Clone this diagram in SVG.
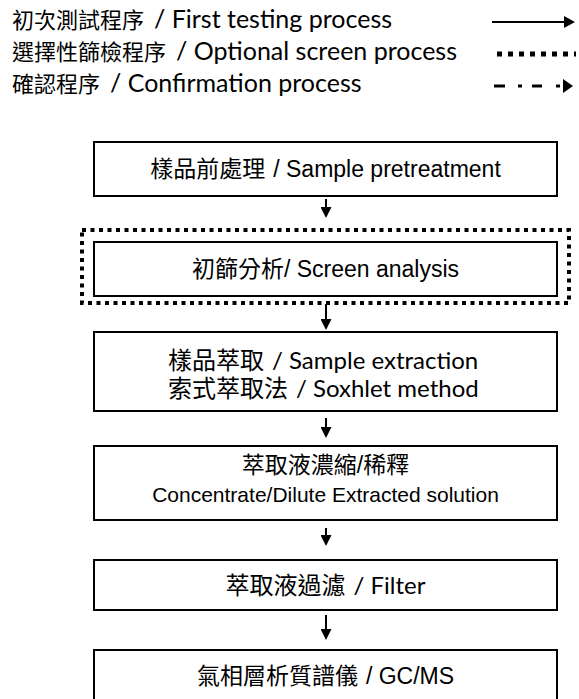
<svg xmlns="http://www.w3.org/2000/svg" width="579" height="699" viewBox="0 0 579 699">
<defs>
<style>
.box{fill:#fff;stroke:#000;stroke-width:2}
.t{font-family:"Liberation Sans","Noto Sans CJK TC",sans-serif;font-size:23px;fill:#000}
.tc{font-family:Lato,"Noto Sans CJK TC",sans-serif;font-size:24px;fill:#000}
.lg{font-family:Lato,"Noto Sans CJK TC",sans-serif;font-size:25px;fill:#000}
.lgc{font-size:22px}
.conn{stroke:#000;stroke-width:2;fill:none}
</style>
<marker id="ah" markerWidth="11" markerHeight="11" refX="5.5" refY="5" orient="0" markerUnits="userSpaceOnUse" viewBox="0 0 11 11">
<path d="M0,0 L11,0 L5.5,11 Z" fill="#000"/>
</marker>
</defs>
<rect width="579" height="699" fill="#fff"/>
<g id="legend">
<text class="lg" x="12" y="28"><tspan class="lgc">初次測試程序</tspan><tspan dx="10">/ First testing process</tspan></text>
<text class="lg" x="12" y="60"><tspan class="lgc">選擇性篩檢程序</tspan><tspan dx="10">/ Optional screen process</tspan></text>
<text class="lg" x="12" y="92"><tspan class="lgc">確認程序</tspan><tspan dx="10">/ Confirmation process</tspan></text>
<line x1="492" y1="22" x2="566" y2="22" stroke="#000" stroke-width="2"/>
<path d="M564,16 L575,22 L564,28 Z" fill="#000"/>
<line x1="497" y1="54" x2="576" y2="54" stroke="#000" stroke-width="5" stroke-dasharray="5 6"/>
<line x1="494" y1="86" x2="505" y2="86" stroke="#000" stroke-width="3"/>
<line x1="518" y1="86" x2="522" y2="86" stroke="#000" stroke-width="3"/>
<line x1="532" y1="86" x2="542" y2="86" stroke="#000" stroke-width="3"/>
<line x1="556" y1="86" x2="560" y2="86" stroke="#000" stroke-width="3"/>
<path d="M563,79 L573,86 L563,93 Z" fill="#000"/>
</g>
<g id="n1">
<rect class="box" x="94" y="142" width="463" height="54"/>
<text class="t" x="325.5" y="177" text-anchor="middle">樣品前處理<tspan dx="8">/ Sample pretreatment</tspan></text>
</g>
<g id="screen">
<rect x="82" y="230" width="487" height="73" fill="none" stroke="#000" stroke-width="4" stroke-dasharray="4 4.5"/>
<g id="n2">
<rect class="box" x="94" y="242" width="463" height="54"/>
<text class="t" x="325.5" y="277" text-anchor="middle">初篩分析/ Screen analysis</text>
</g>
</g>
<g id="n3">
<rect class="box" x="94" y="332" width="463" height="79"/>
<text class="tc" x="168" y="369">樣品萃取<tspan dx="8">/ Sample extraction</tspan></text>
<text class="tc" x="168" y="397">索式萃取法<tspan dx="8">/ Soxhlet method</tspan></text>
</g>
<g id="n4">
<rect class="box" x="94" y="446" width="463" height="74"/>
<text class="t" x="325.5" y="473" text-anchor="middle">萃取液濃縮/稀釋</text>
<text class="t" x="325.5" y="502" text-anchor="middle" style="font-size:21px">Concentrate/Dilute Extracted solution</text>
</g>
<g id="n5">
<rect class="box" x="94" y="560" width="463" height="50"/>
<text class="tc" x="325.5" y="594" text-anchor="middle">萃取液過濾<tspan dx="8">/ Filter</tspan></text>
</g>
<g id="n6">
<rect class="box" x="94" y="650" width="463" height="60"/>
<text class="t" x="325.5" y="684" text-anchor="middle">氣相層析質譜儀<tspan dx="8">/ GC/MS</tspan></text>
</g>
<g id="connectors">
<line class="conn" x1="326" y1="199" x2="326" y2="212" marker-end="url(#ah)"/>
<line class="conn" x1="326" y1="304" x2="326" y2="324" marker-end="url(#ah)"/>
<line class="conn" x1="326" y1="418" x2="326" y2="432" marker-end="url(#ah)"/>
<line class="conn" x1="326" y1="528" x2="326" y2="540" marker-end="url(#ah)"/>
<line class="conn" x1="326" y1="615" x2="326" y2="634" marker-end="url(#ah)"/>
</g>
</svg>
